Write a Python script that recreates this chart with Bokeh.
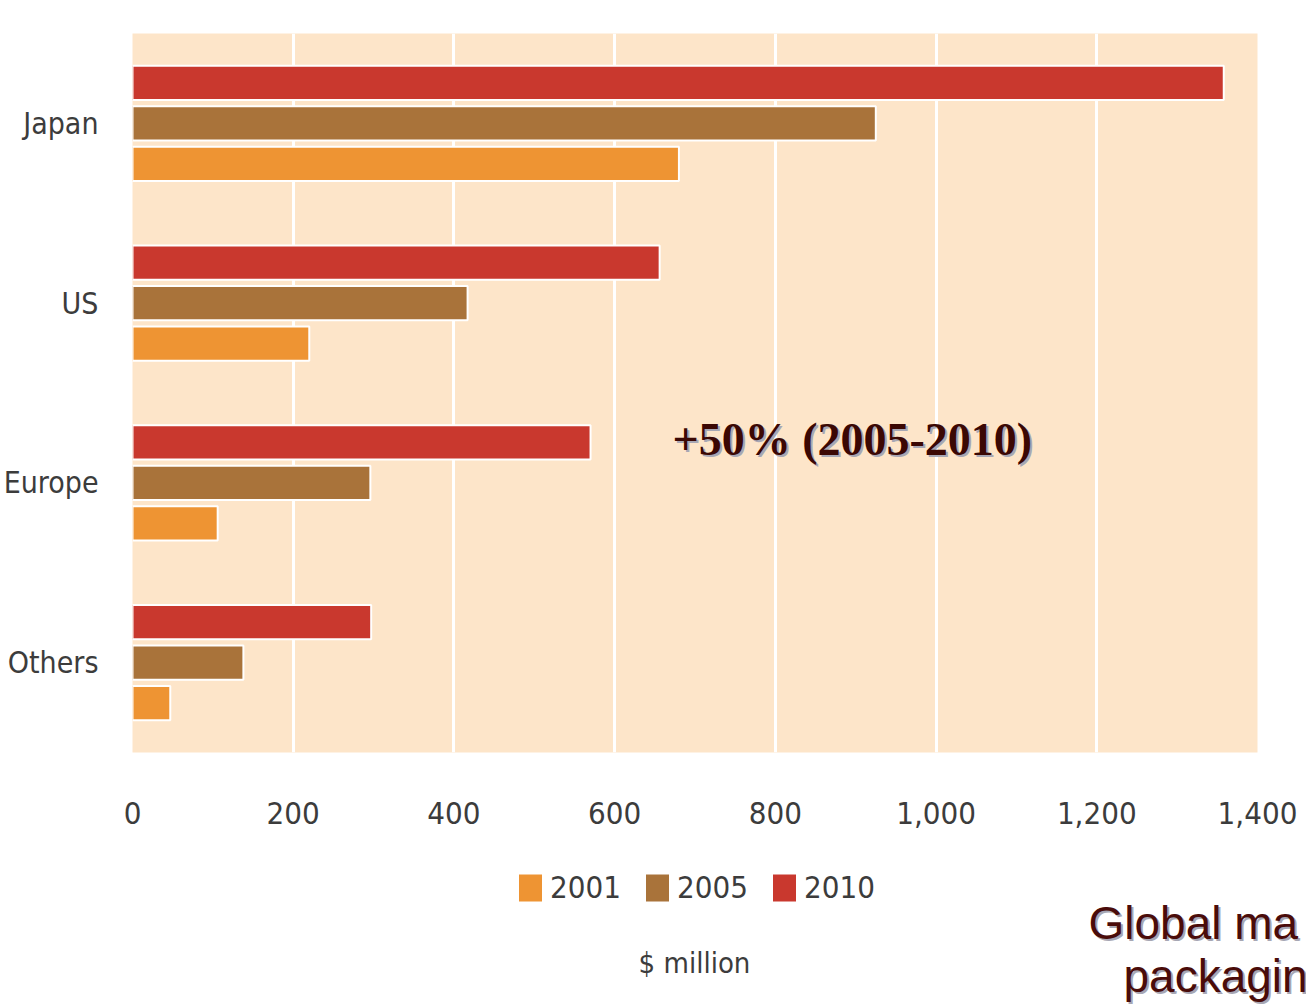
from bokeh.plotting import figure
from bokeh.layouts import column
from bokeh.models import (ColumnDataSource, FactorRange, Range1d, FixedTicker,
                          NumeralTickFormatter, Legend, LegendItem, Label)
from bokeh.core.properties import value
from bokeh.transform import dodge
from bokeh.embed import file_html
from bokeh.resources import INLINE

# Market size by region, $ million
regions = ["Japan", "US", "Europe", "Others"]
years = ["2001", "2005", "2010"]
sales_2001 = [680, 220, 106, 47]
sales_2005 = [925, 417, 296, 138]
sales_2010 = [1358, 656, 570, 297]
x_ticks = [0, 200, 400, 600, 800, 1000, 1200, 1400]
x_title = "$ million"
growth_note = "+50% (2005-2010)"
caption_lines = ["Global ma", "packagin"]

colors = {"2001": "#ee9433", "2005": "#a9733a", "2010": "#c9382e"}
offsets = {"2001": -0.225, "2005": 0.0, "2010": 0.225}
series = {"2001": sales_2001, "2005": sales_2005, "2010": sales_2010}

COND = "'DejaVu Sans Condensed', 'Liberation Sans Narrow', sans-serif"
SERIF = "'Liberation Serif', 'Times New Roman', serif"
ARIAL = "'Liberation Sans', Arial, sans-serif"
INK = "#3c3c3c"

W = 1306
TOP_H, BOT_H = 860, 144
LEFT, RIGHT, TOP, BOTTOM = 130, 49, 33, 108

# ---- main chart ----
p = figure(width=W, height=TOP_H, output_backend="svg", toolbar_location=None,
           x_range=Range1d(0, 1400),
           y_range=FactorRange(factors=list(reversed(regions)), range_padding=0),
           min_border_left=LEFT, min_border_right=RIGHT,
           min_border_top=TOP, min_border_bottom=BOTTOM,
           background_fill_color="#fde5c9", border_fill_color="white",
           outline_line_color=None)

for yr in years:
    src = ColumnDataSource(dict(region=regions, value=series[yr]))
    p.hbar(y=dodge("region", offsets[yr], range=p.y_range),
           left=0, right="value", height=0.19, source=src,
           fill_color=colors[yr], line_color="white", line_width=2)

p.ygrid.grid_line_color = None
p.xgrid.grid_line_color = "white"
p.xgrid.grid_line_width = 3
p.xgrid.ticker = FixedTicker(ticks=x_ticks)

xa = p.xaxis[0]
xa.ticker = FixedTicker(ticks=x_ticks)
xa.formatter = NumeralTickFormatter(format="0,0")
xa.axis_line_color = None
xa.major_tick_line_color = None
xa.minor_tick_line_color = None
xa.major_label_standoff = 43
xa.major_label_text_font = COND
xa.major_label_text_font_size = "31px"
xa.major_label_text_color = INK

ya = p.yaxis[0]
ya.axis_line_color = None
ya.major_tick_line_color = None
ya.minor_tick_line_color = None
ya.major_label_standoff = 28
ya.major_label_text_font = COND
ya.major_label_text_font_size = "30px"
ya.major_label_text_color = INK

# growth annotation with a soft drop shadow
for dx, dy, c in ((2, -2, "#a7a7b4"), (0, 0, "#3b0804")):
    p.add_layout(Label(x=540 + dx, y=313 + dy, x_units="screen", y_units="screen",
                       text=growth_note, text_font=SERIF, text_font_size="46px",
                       text_font_style="bold", text_color=c,
                       text_baseline="alphabetic", text_align="left"))

# ---- legend, unit title and caption strip ----
q = figure(width=W, height=BOT_H, output_backend="svg", toolbar_location=None,
           x_range=Range1d(0, W), y_range=Range1d(TOP_H + BOT_H, TOP_H),
           x_axis_type=None, y_axis_type=None, min_border=0,
           background_fill_color="white", border_fill_color="white",
           outline_line_color=None)
q.frame_align = False
q.xgrid.visible = False
q.ygrid.visible = False

# hidden one-row renderers that only supply the legend swatches
swatches = {}
for yr in years:
    swatches[yr] = q.hbar(y=[0], left=[0], right=[0], height=0,
                          fill_color=colors[yr], line_color="white", line_width=1,
                          visible=False)

legend = Legend(items=[LegendItem(label=yr, renderers=[swatches[yr]]) for yr in years],
                orientation="horizontal", location=(515, 99),
                glyph_width=30, glyph_height=35, label_standoff=5, spacing=21,
                padding=0, margin=0, border_line_color=None,
                background_fill_alpha=0, inactive_fill_alpha=0,
                label_text_font=COND, label_text_font_size="31px",
                label_text_color=INK)
q.add_layout(legend, "center")

q.text(x=[694], y=[962], text=[x_title], text_font=value(COND),
       text_font_size="29px", text_color=INK, text_align="center",
       text_baseline="alphabetic")

cap_src = ColumnDataSource(dict(x=[1088, 1123], y=[922, 975], text=caption_lines))
for dx, dy, c in ((2, 2, "#a7a7b4"), (0, 0, "#4a0c0a")):
    q.text(x=dodge("x", dx), y=dodge("y", dy), text="text", source=cap_src,
           text_font=value(ARIAL), text_font_size="46px", text_color=c,
           text_align="left", text_baseline="alphabetic")

layout = column(p, q, spacing=0)

with open("out.html", "w") as f:
    f.write(file_html(layout, INLINE))
